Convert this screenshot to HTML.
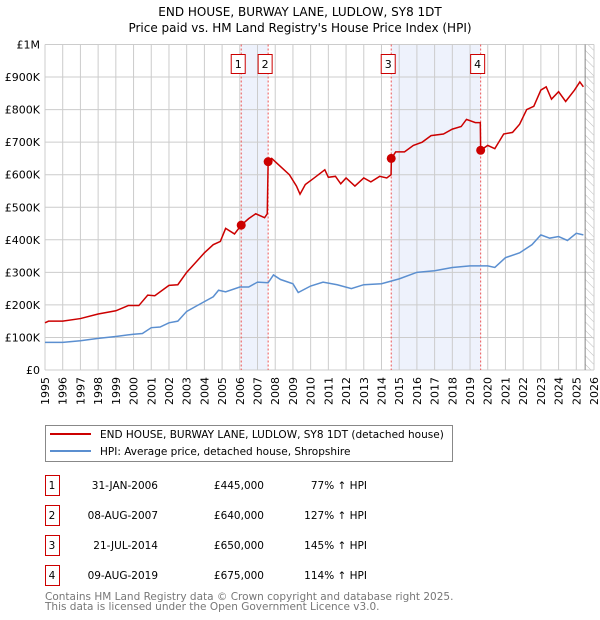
<!DOCTYPE html>
<html><head><meta charset="utf-8"><style>
body{margin:0;background:#fff;font-family:"DejaVu Sans","Liberation Sans",sans-serif;}
svg{display:block}
</style></head><body>
<svg id="c" width="600" height="620" xmlns="http://www.w3.org/2000/svg" font-family="DejaVu Sans, Liberation Sans, sans-serif">
<text x="300" y="16" text-anchor="middle" font-size="12">END HOUSE, BURWAY LANE, LUDLOW, SY8 1DT</text>
<text x="300" y="32" text-anchor="middle" font-size="12">Price paid vs. HM Land Registry's House Price Index (HPI)</text>
<g id="plot"></g>
<g>
<rect x="45.5" y="425.5" width="407" height="36" fill="#fff" stroke="#888"/>
<line x1="50" y1="434" x2="91" y2="434" stroke="#cc0000" stroke-width="2"/>
<text x="100" y="438" font-size="10.5">END HOUSE, BURWAY LANE, LUDLOW, SY8 1DT (detached house)</text>
<line x1="50" y1="451" x2="91" y2="451" stroke="#5b8fd0" stroke-width="2"/>
<text x="100" y="455" font-size="10.5">HPI: Average price, detached house, Shropshire</text>
</g>
<g id="tbl" font-size="10.5"></g>
<text x="45" y="600" font-size="10.5" fill="#777">Contains HM Land Registry data © Crown copyright and database right 2025.</text>
<text x="45" y="610" font-size="10.5" fill="#777">This data is licensed under the Open Government Licence v3.0.</text>
</svg>
<script>
const yearTicks=[1995,1996,1997,1998,1999,2000,2001,2002,2003,2004,2005,2006,2007,2008,2009,2010,2011,2012,2013,2014,2015,2016,2017,2018,2019,2020,2021,2022,2023,2024,2025,2026];
const priceTicks=[0,100000,200000,300000,400000,500000,600000,700000,800000,900000,1000000];
const priceTickLabels=["£0","£100K","£200K","£300K","£400K","£500K","£600K","£700K","£800K","£900K","£1M"];
const hpiT=[1995,1996,1997,1998,1999,2000,2000.5,2001,2001.5,2002,2002.5,2003,2003.5,2004,2004.5,2004.8,2005.2,2006,2006.5,2007,2007.6,2007.9,2008.3,2009,2009.3,2010,2010.7,2011.5,2012.3,2013,2014,2015,2016,2017,2018,2019,2020,2020.4,2021,2021.8,2022.5,2023,2023.5,2024,2024.5,2025,2025.4];
const hpiV=[85000,85000,90000,97000,103000,110000,112000,130000,132000,145000,150000,180000,195000,210000,225000,245000,240000,255000,255000,270000,268000,292000,278000,265000,238000,258000,270000,262000,250000,262000,265000,280000,300000,305000,315000,320000,320000,315000,345000,360000,385000,415000,405000,410000,398000,420000,415000];
const propT=[1995,1995.2,1996,1997,1998,1999,1999.7,2000.3,2000.8,2001.2,2002,2002.5,2003,2003.5,2004,2004.5,2004.9,2005.2,2005.7,2006.08,2006.5,2006.9,2007.4,2007.55,2007.6,2007.8,2008.3,2008.8,2009.2,2009.4,2009.7,2010.2,2010.8,2011,2011.4,2011.7,2012,2012.5,2013,2013.4,2013.9,2014.3,2014.54,2014.56,2014.8,2015.3,2015.8,2016.3,2016.8,2017.5,2018,2018.5,2018.8,2019.3,2019.58,2019.6,2020,2020.4,2020.9,2021.4,2021.8,2022.2,2022.6,2023,2023.3,2023.6,2024,2024.4,2024.9,2025.2,2025.4];
const propV=[145000,150000,150000,158000,172000,182000,198000,198000,230000,228000,260000,262000,300000,330000,360000,385000,395000,435000,418000,445000,465000,480000,468000,480000,640000,650000,625000,600000,565000,540000,570000,590000,615000,592000,595000,572000,590000,565000,590000,578000,595000,590000,600000,650000,670000,670000,690000,700000,720000,725000,740000,748000,770000,760000,760000,675000,690000,680000,725000,730000,755000,800000,810000,860000,870000,832000,855000,825000,860000,885000,870000];
const saleLabels=["1","2","3","4"];
const saleT=[2006.08,2007.6,2014.55,2019.6];
const saleV=[445000,640000,650000,675000];
const saleDates=["31-JAN-2006","08-AUG-2007","21-JUL-2014","09-AUG-2019"];
const salePrices=["£445,000","£640,000","£650,000","£675,000"];
const saleHpi=["77% ↑ HPI","127% ↑ HPI","145% ↑ HPI","114% ↑ HPI"];

const NS="http://www.w3.org/2000/svg";
const X0=45,X1=594,Y0=370,Y1=44.5;
const xs=t=>X0+(t-1995)/(2026-1995)*(X1-X0);
const ys=v=>Y0-v/1000000*(Y0-Y1);
const plot=document.getElementById('plot');
function mk(tag,at,parent){const e=document.createElementNS(NS,tag);for(const k in at)e.setAttribute(k,at[k]);(parent||plot).appendChild(e);return e;}
for(let i=0;i<saleT.length;i+=2){
 const r=mk('rect',{x:xs(saleT[i]),y:Y1,width:xs(saleT[i+1])-xs(saleT[i]),height:Y0-Y1,fill:'#eef2fc'});
 
 
}
const defs=mk('defs',{});
const pat=mk('pattern',{id:'h',width:6,height:6,patternUnits:'userSpaceOnUse',patternTransform:'rotate(-45)'},defs);
mk('line',{x1:0,y1:0,x2:0,y2:6,stroke:'#bbb','stroke-width':1},pat);
const hr=mk('rect',{x:xs(2025.5),y:Y1,width:X1-xs(2025.5),height:Y0-Y1,fill:'url(#h)'});


yearTicks.forEach(t=>{
 const l=mk('line',{x1:xs(t),y1:Y1,x2:xs(t),y2:Y0,stroke:'#ccc'});
 
 
 const tx=mk('text',{x:0,y:0,'font-size':11,'text-anchor':'end',transform:`translate(${xs(t)+4},${Y0+7}) rotate(-90)`});
 tx.textContent=t;
 
 
});
priceTicks.forEach((v,i)=>{
 const l=mk('line',{x1:X0,y1:ys(v),x2:X1,y2:ys(v),stroke:'#ccc'});
 
 
 const tx=mk('text',{x:X0-5,y:ys(v)+4,'font-size':11,'text-anchor':'end'});
 tx.textContent=priceTickLabels[i];
 
 
});
const vl=mk('line',{x1:xs(2025.5),y1:Y1,x2:xs(2025.5),y2:Y0,stroke:'#888'});


saleT.forEach((t,i)=>{
 const l=mk('line',{x1:xs(t),y1:Y1,x2:xs(t),y2:Y0,stroke:'#e55','stroke-dasharray':'2,2'});
 
 
 const b=mk('rect',{x:xs(t)-10,y:54.5,width:14,height:19,fill:'#fff',stroke:'#cc0000'});
 
 
 const tx=mk('text',{x:xs(t)-3,y:68,'font-size':11,'text-anchor':'middle'});
 tx.textContent=saleLabels[i];
 
 
});
const hp=mk('polyline',{points:hpiT.map((t,i)=>xs(t)+','+ys(hpiV[i])).join(' '),fill:'none',stroke:'#5b8fd0','stroke-width':1.5});


const pp=mk('polyline',{points:propT.map((t,i)=>xs(t)+','+ys(propV[i])).join(' '),fill:'none',stroke:'#cc0000','stroke-width':1.5});


saleT.forEach((t,i)=>{
 const c=mk('circle',{cx:xs(t),cy:ys(saleV[i]),r:4.5,fill:'#cc0000'});
 
 
});
const tbl=document.getElementById('tbl');
saleLabels.forEach((s,i)=>{
 const y=475+i*30;
 const b=mk('rect',{x:45.5,y:y+0.5,width:14,height:20,fill:'#fff',stroke:'#cc0000'},tbl);
 
 
 const cols=[[52,s,'middle'],[158,saleDates[i],'end'],[264,salePrices[i],'end'],[367,saleHpi[i],'end']];
 cols.forEach(([x,txt,a])=>{
  const tx=mk('text',{x:x,y:y+14,'text-anchor':a},tbl);
  tx.textContent=txt;
  
  
 });
});
</script>
</body></html>
